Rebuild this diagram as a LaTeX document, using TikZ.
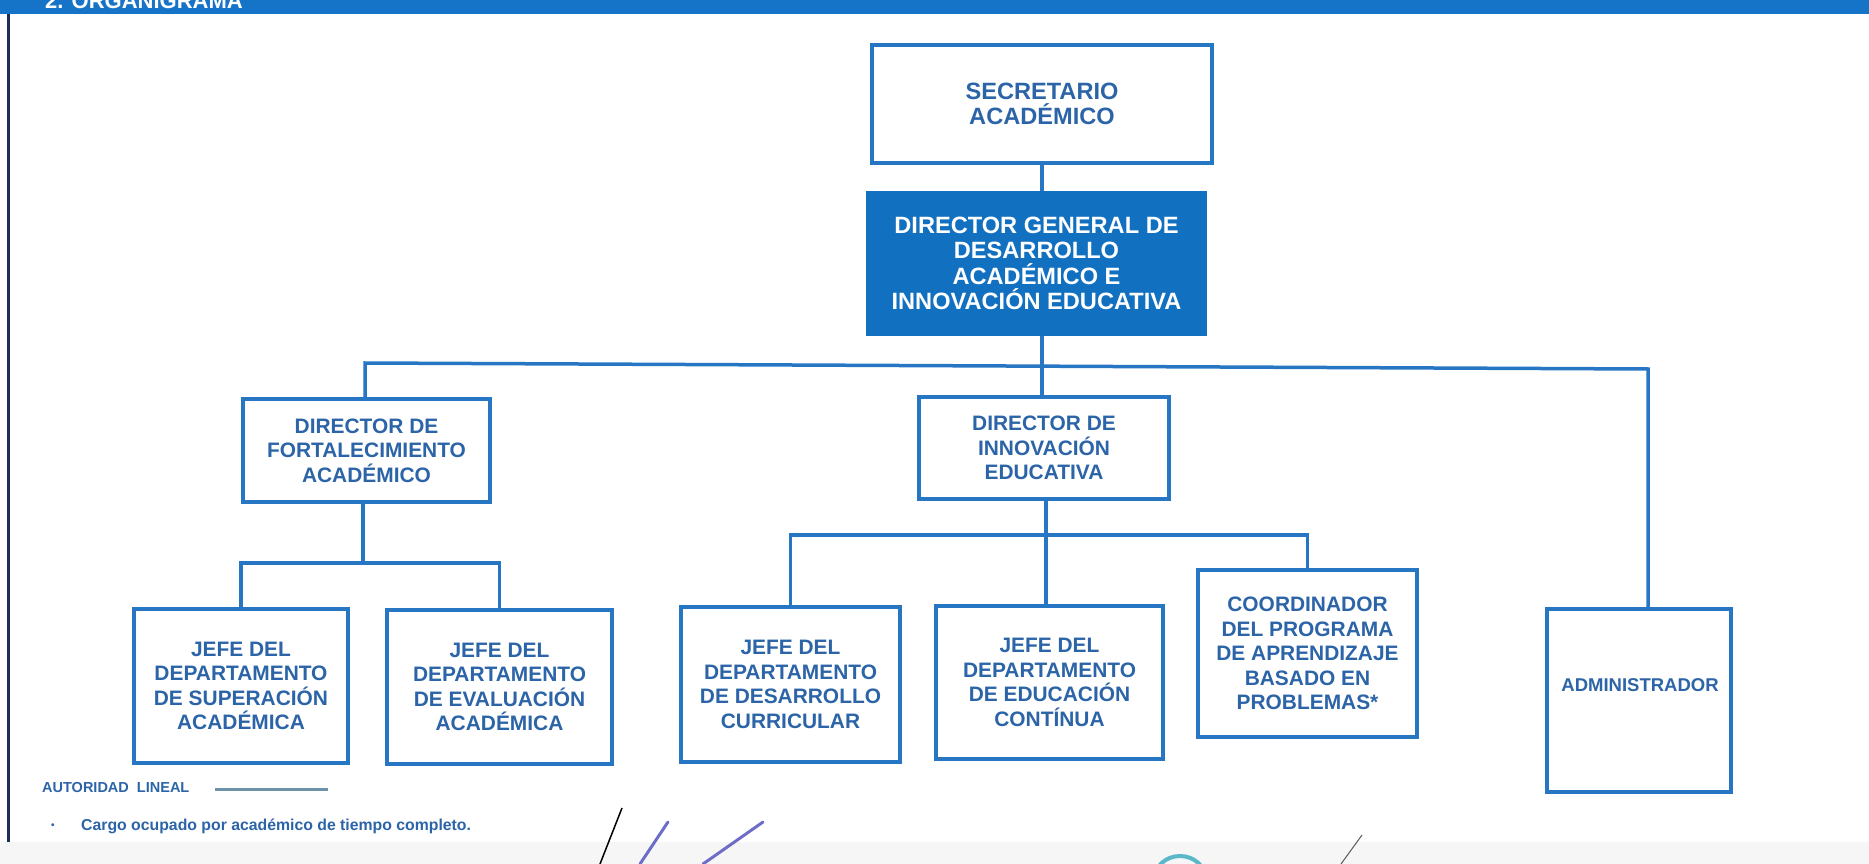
\documentclass[tikz,border=0pt]{standalone}
\usepackage{fontspec}
\setmainfont{Liberation Sans}
\definecolor{boxblue}{RGB}{39,118,196}
\definecolor{txtblue}{RGB}{44,100,168}
\definecolor{dgblue}{RGB}{18,112,192}
\definecolor{barblue}{RGB}{22,116,200}
\definecolor{edgeline}{RGB}{28,47,90}
\definecolor{legline}{RGB}{109,147,168}
\definecolor{sigblue}{RGB}{110,110,200}
\definecolor{stamp}{RGB}{90,184,200}
\begin{document}
\begin{tikzpicture}[x=1pt,y=-1pt,
  box/.style={draw=boxblue, line width=4pt, fill=white, text=txtblue,
    font=\bfseries\fontsize{20.9}{24.6}\selectfont, align=center, inner sep=0pt},
  topbox/.style={box, font=\bfseries\fontsize{23.6}{25.5}\selectfont},
  link/.style={draw=boxblue, line width=3.5pt},
  legtext/.style={text=txtblue, font=\bfseries\fontsize{14.5}{16}\selectfont, inner sep=0pt, anchor=west},
]
\useasboundingbox (0,0) rectangle (1869,864);
\clip (0,0) rectangle (1869,864);
\fill[white] (0,0) rectangle (1869,864);
\fill[gray!7] (0,842) rectangle (1869,864);
% top bar
\fill[barblue] (0,0) rectangle (1869,14);
\begin{scope}
\clip (0,0) rectangle (1869,14);
\node[anchor=base west, text=white, font=\bfseries\fontsize{22}{24}\selectfont, inner sep=0pt] (title) at (45,9) {2. ORGANIGRAMA};
\end{scope}
% left border
\draw[edgeline, line width=3pt] (8,14) -- (8,842);

% boxes
\node[topbox, minimum width=340pt, minimum height=118pt] (sec) at (1042,104) {SECRETARIO\\ACADÉMICO};
\node[topbox, fill=dgblue, draw=dgblue, text=white, minimum width=337pt, minimum height=141pt] (dg) at (1036.5,263.5) {DIRECTOR GENERAL DE\\DESARROLLO\\ACADÉMICO E\\INNOVACIÓN EDUCATIVA};
\node[box, minimum width=247pt, minimum height=103pt] (fort) at (366.5,450.5) {DIRECTOR DE\\FORTALECIMIENTO\\ACADÉMICO};
\node[box, minimum width=250pt, minimum height=102pt] (inn) at (1044,448) {DIRECTOR DE\\INNOVACIÓN\\EDUCATIVA};
\node[box, minimum width=214pt, minimum height=154pt] (sup) at (241,686) {JEFE DEL\\DEPARTAMENTO\\DE SUPERACIÓN\\ACADÉMICA};
\node[box, minimum width=225pt, minimum height=154pt] (eva) at (499.5,687) {JEFE DEL\\DEPARTAMENTO\\DE EVALUACIÓN\\ACADÉMICA};
\node[box, minimum width=219pt, minimum height=155pt] (des) at (790.5,684.5) {JEFE DEL\\DEPARTAMENTO\\DE DESARROLLO\\CURRICULAR};
\node[box, minimum width=227pt, minimum height=153pt] (edu) at (1049.5,682.5) {JEFE DEL\\DEPARTAMENTO\\DE EDUCACIÓN\\CONTÍNUA};
\node[box, minimum width=219pt, minimum height=167pt] (coo) at (1307.5,653.5) {COORDINADOR\\DEL PROGRAMA\\DE APRENDIZAJE\\BASADO EN\\PROBLEMAS*};
\node[box, minimum width=184pt, minimum height=183pt] (adm) at (1639,700.5) {};
\node[text=txtblue, font=\bfseries\fontsize{18.5}{20}\selectfont, inner sep=0pt] (admt) at (1640,685) {ADMINISTRADOR};

% connectors
\coordinate (hub) at (1042,366);
\coordinate (busL) at (365,363);
\coordinate (busR) at (1648,369);
\coordinate (fb) at (363,563);
\coordinate (ib) at (1046,535);
\draw[link] (sec.south) -- (sec.south |- dg.north);
\draw[link] (dg.south -| hub) -- (inn.north -| hub);
\draw[link] (fort.north -| busL) -- (busL) -- (busR) -- (adm.north -| busR);
\draw[link] (fort.south -| fb) -- (fb);
\draw[link] (sup.north) |- (fb) -| (eva.north);
\draw[link] (inn.south -| ib) -- (edu.north -| ib);
\draw[link] (des.north) |- (ib) -| (coo.north);

% legend
\node[legtext] (leg1) at (42,788) {AUTORIDAD\ \ LINEAL};
\coordinate (l1) at (215,789);
\coordinate (l2) at (328,789);
\draw[legline, line width=3pt] (l1) -- (l2);
\node[legtext, font=\bfseries\fontsize{10}{12}\selectfont] (bul) at (51,826) {•};
\node[legtext, font=\bfseries\fontsize{15.8}{17}\selectfont] (leg2) at (81,826) {Cargo ocupado por académico de tiempo completo.};

% signature marks
\draw[black, line width=1.5pt] (622,808) -- (600,864);
\draw[sigblue, line width=3pt, line cap=round] (668,822) -- (640,864);
\draw[sigblue, line width=3pt, line cap=round] (763,822) -- (703,864);
\draw[stamp, line width=4pt] (1180,880) ellipse (26 and 24);
\draw[gray!70!black, line width=1pt] (1362,835) -- (1341,864);
\end{tikzpicture}
\end{document}
